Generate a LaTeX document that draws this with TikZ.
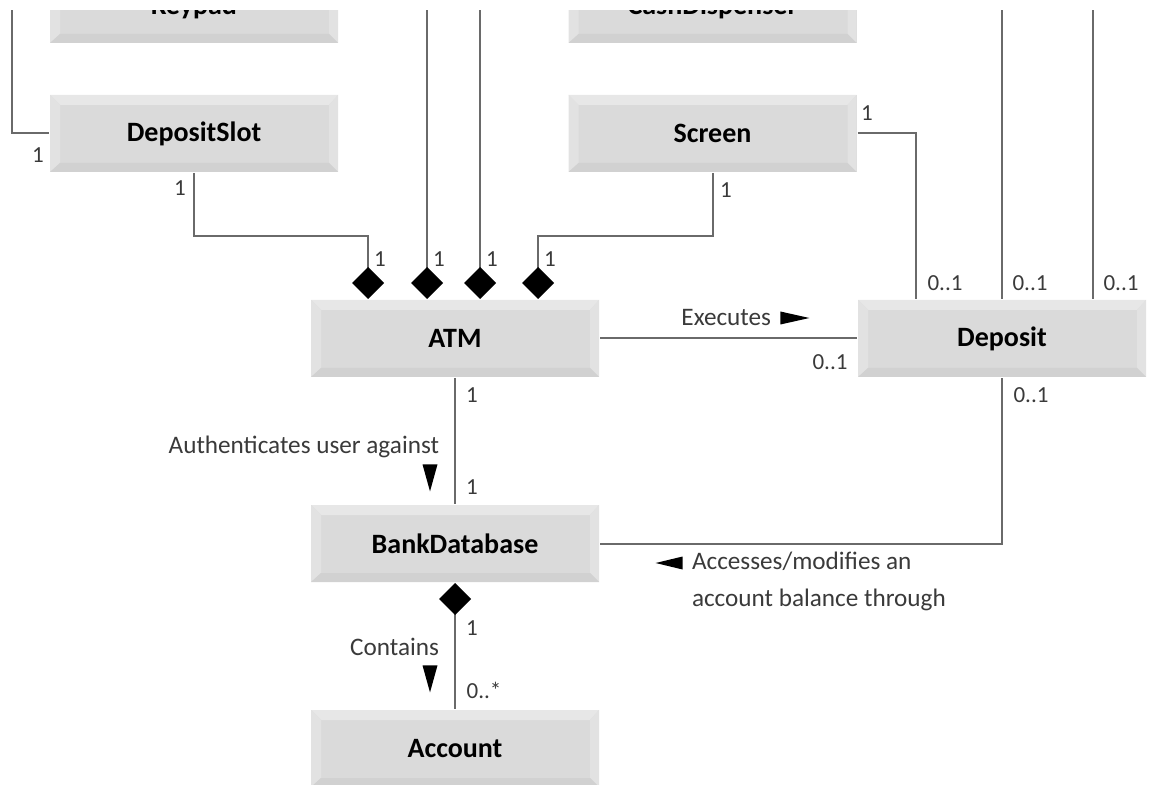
\documentclass[tikz,border=0pt]{standalone}
\usepackage{fontspec}
\setmainfont{Carlito}
\usepackage{tikz}
\usetikzlibrary{arrows.meta,calc,shapes.geometric}
\definecolor{boxface}{HTML}{DADADA}
\definecolor{boxtop}{HTML}{E7E7E7}
\definecolor{boxside}{HTML}{E2E2E2}
\definecolor{boxlow}{HTML}{D1D1D1}
\definecolor{linegray}{HTML}{6A6A6A}
\definecolor{labelgray}{HTML}{3A3A3A}

\begin{document}
\begin{tikzpicture}[x=0.5pt,y=-0.5pt,line width=1pt,
  class node/.style={rectangle,fill=boxface,inner sep=0pt,minimum width=144pt,minimum height=38.5pt,
    font=\bfseries\fontsize{14}{16}\selectfont,
    path picture={
      \coordinate (bnw) at (path picture bounding box.north west);
      \coordinate (bne) at (path picture bounding box.north east);
      \coordinate (bsw) at (path picture bounding box.south west);
      \coordinate (bse) at (path picture bounding box.south east);
      \fill[boxtop] (bnw) -- (bne) -- ([shift={(-4.5pt,-5pt)}]bne) -- ([shift={(5pt,-5pt)}]bnw) -- cycle;
      \fill[boxside] (bnw) -- ([shift={(5pt,-5pt)}]bnw) -- ([shift={(5pt,4.5pt)}]bsw) -- (bsw) -- cycle;
      \fill[boxside] (bne) -- (bse) -- ([shift={(-4.5pt,4.5pt)}]bse) -- ([shift={(-4.5pt,-5pt)}]bne) -- cycle;
      \fill[boxlow] (bsw) -- ([shift={(5pt,4.5pt)}]bsw) -- ([shift={(-4.5pt,4.5pt)}]bse) -- (bse) -- cycle;
    }},
  assoc/.style={draw=linegray},
  comp/.style={assoc,-{Diamond[length=16pt,width=16pt,color=black]}},
  mult/.style={font=\fontsize{11.5}{13}\selectfont,text=labelgray,inner sep=0pt},
  role/.style={font=\fontsize{12.6}{18.5}\selectfont,text=labelgray,inner sep=0pt},
  dirtri/.style={isosceles triangle,isosceles triangle stretches,fill=black,inner sep=0pt,anchor=apex}]

  \useasboundingbox (0,0) rectangle (1149,785);
  \clip (0,11) rectangle (1149,785);

  % classes
  \node[class node,text depth=0pt] (keypad) at (194,4.5) {Keypad};
  \node[class node,text depth=0pt] (cash) at (712.5,4.5) {CashDispenser};
  \node[class node] (slot) at (194,133.5) {DepositSlot};
  \node[class node] (screen) at (712.5,133.5) {Screen};
  \node[class node] (atm) at (455,338.5) {ATM};
  \node[class node] (dep) at (1002,338.5) {Deposit};
  \node[class node] (bank) at (455,543.5) {BankDatabase};
  \node[class node] (acct) at (455,748.5) {Account};

  % ends of lines coming from above
  \coordinate (topa) at (427,0);
  \coordinate (topb) at (480,0);
  \coordinate (topc) at (12,0);
  \coordinate (topd) at (1002,0);
  \coordinate (tope) at (1093,0);

  % connectors
  \draw[comp] (slot.south) -- ++(0,63) -| ($(atm.north)+(-87,0)$);
  \draw[comp] (topa) -- (topa |- atm.north);
  \draw[comp] (topb) -- (topb |- atm.north);
  \draw[comp] (screen.south) -- ++(0,63) -| ($(atm.north)+(83,0)$);
  \draw[assoc] (topc) |- (slot.west);
  \draw[assoc] (screen.east) -| ($(dep.north)+(-86,0)$);
  \draw[assoc] (topd) -- (dep.north);
  \draw[assoc] (tope) -- (tope |- dep.north);
  \draw[assoc] (atm.east) -- (dep.west);
  \draw[assoc] (atm.south) -- (bank.north);
  \draw[assoc] (bank.east) -| (dep.south);
  \draw[assoc,{Diamond[length=16pt,width=16pt,color=black]}-] (bank.south) -- (acct.north);

  % multiplicities
  \node[mult] (m1) at (38,155) {1};
  \node[mult] (m2) at (180,188) {1};
  \node[mult] (m3) at (380,259) {1};
  \node[mult] (m4) at (439,259) {1};
  \node[mult] (m5) at (492,259) {1};
  \node[mult] (m6) at (550,259) {1};
  \node[mult] (m7) at (726,190) {1};
  \node[mult] (m8) at (867,113) {1};
  \node[mult] (m9) at (945,283) {0..1};
  \node[mult] (m10) at (1030,283) {0..1};
  \node[mult] (m11) at (1121,283) {0..1};
  \node[mult] (m12) at (830,362) {0..1};
  \node[mult] (m13) at (1031,395) {0..1};
  \node[mult] (m14) at (472,395) {1};
  \node[mult] (m15) at (472,487) {1};
  \node[mult] (m16) at (472,628) {1};
  \node[mult] (m17) at (484,690) {0..*};

  % association names
  \node[role,anchor=east] (exec) at (772,318) {Executes};
  \node[dirtri,minimum width=6.5pt,minimum height=14.5pt] (execdir) at (812,318) {};
  \node[role,anchor=east] (auth) at (440,447) {Authenticates user against};
  \node[dirtri,shape border rotate=270,minimum width=7.5pt,minimum height=13.5pt] (authdir) at (430,494) {};
  \node[role,anchor=east] (cont) at (440,647) {Contains};
  \node[dirtri,shape border rotate=270,minimum width=7.5pt,minimum height=13.5pt] (contdir) at (430,695) {};
  \node[dirtri,shape border rotate=180,minimum width=6.5pt,minimum height=13.5pt] (accdir) at (653,563) {};
  \node[role,anchor=north west,align=left] (acc) at (691,551) {Accesses/modifies an\\account balance through};
\end{tikzpicture}
\end{document}
